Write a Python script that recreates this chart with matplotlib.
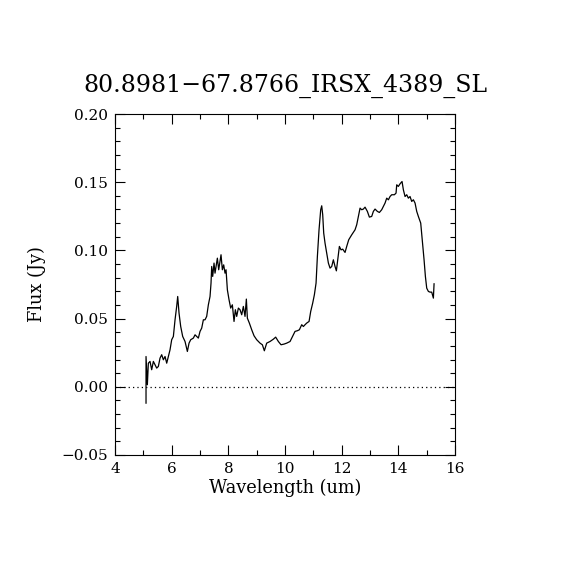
import numpy as np
import matplotlib
matplotlib.use('Agg')
import matplotlib.pyplot as plt
from matplotlib.ticker import MultipleLocator

# spectrum (um, Jy)
wave = [5.094, 5.094, 5.141, 5.176, 5.235, 5.294, 5.353, 5.412, 5.471, 5.529,
        5.588, 5.647, 5.706, 5.765, 5.824, 5.882, 5.941, 6.0, 6.059, 6.118,
        6.176, 6.212, 6.259, 6.318, 6.388, 6.471, 6.553, 6.612, 6.671, 6.765,
        6.824, 6.882, 6.941, 7.0, 7.059, 7.118, 7.176, 7.235, 7.294, 7.353,
        7.388, 7.412, 7.447, 7.494, 7.529, 7.565, 7.612, 7.659, 7.706, 7.741,
        7.788, 7.835, 7.882, 7.918, 7.965, 8.024, 8.082, 8.141, 8.2, 8.247,
        8.294, 8.353, 8.412, 8.471, 8.529, 8.588, 8.635, 8.671, 8.741, 8.824,
        8.906, 9.0, 9.118, 9.2, 9.27, 9.353, 9.47, 9.588, 9.67, 9.765,
        9.859, 9.965, 10.059,
        10.177, 10.295, 10.353, 10.436, 10.506, 10.589, 10.648, 10.706, 10.765, 10.848,
        10.906, 10.977, 11.036, 11.095, 11.142, 11.2, 11.259, 11.295, 11.33, 11.365,
        11.412, 11.471, 11.53, 11.589, 11.648, 11.706, 11.765, 11.812, 11.859, 11.918,
        11.977, 12.036, 12.118, 12.177, 12.248, 12.353, 12.471, 12.53, 12.589, 12.648,
        12.706, 12.765, 12.824, 12.906, 12.977, 13.059, 13.118, 13.177, 13.259, 13.33,
        13.412, 13.471, 13.53, 13.589, 13.648, 13.706, 13.765, 13.859, 13.918, 13.942,
        14.0, 14.059, 14.13, 14.177, 14.236, 14.295, 14.353, 14.412, 14.471, 14.53,
        14.589, 14.648, 14.706, 14.789, 14.848, 14.907, 14.954, 15.001, 15.06, 15.118,
        15.177, 15.236, 15.26]
flux = [-0.0120, 0.0222, 0.0015, 0.0173, 0.0186, 0.0125, 0.0186, 0.0161, 0.0137, 0.0149,
        0.0210, 0.0235, 0.0198, 0.0222, 0.0173, 0.0222, 0.0271, 0.0345, 0.0369, 0.0491,
        0.0589, 0.0662, 0.0540, 0.0442, 0.0369, 0.0332, 0.0259, 0.0320, 0.0345, 0.0357,
        0.0381, 0.0369, 0.0357, 0.0406, 0.0430, 0.0491, 0.0491, 0.0516, 0.0601, 0.0662,
        0.0760, 0.0882, 0.0809, 0.0907, 0.0833, 0.0882, 0.0943, 0.0858, 0.0919, 0.0968,
        0.0858, 0.0894, 0.0833, 0.0858, 0.0711, 0.0638, 0.0577, 0.0601, 0.0479, 0.0565,
        0.0516, 0.0577, 0.0565, 0.0528, 0.0589, 0.0516, 0.0643, 0.0503, 0.0467, 0.0418,
        0.0374, 0.0345, 0.0320, 0.0308, 0.0264, 0.0320, 0.0332, 0.0349, 0.0364, 0.0332,
        0.0308, 0.0313, 0.0320,
        0.0332, 0.0381, 0.0406, 0.0411, 0.0418, 0.0455, 0.0442, 0.0455, 0.0467, 0.0479,
        0.0552, 0.0614, 0.0675, 0.0760, 0.0956, 0.1151, 0.1298, 0.1327, 0.1261, 0.1127,
        0.1053, 0.0980, 0.0907, 0.0870, 0.0882, 0.0931, 0.0882, 0.0850, 0.0931, 0.1029,
        0.1004, 0.1009, 0.0985, 0.1029, 0.1078, 0.1114, 0.1151, 0.1188, 0.1249, 0.1310,
        0.1298, 0.1303, 0.1317, 0.1286, 0.1244, 0.1249, 0.1286, 0.1303, 0.1286, 0.1278,
        0.1298, 0.1322, 0.1347, 0.1383, 0.1371, 0.1395, 0.1408, 0.1408, 0.1420, 0.1481,
        0.1469, 0.1488, 0.1505, 0.1444, 0.1395, 0.1408, 0.1383, 0.1395, 0.1359, 0.1371,
        0.1347, 0.1286, 0.1249, 0.1200, 0.1066, 0.0931, 0.0809, 0.0723, 0.0699, 0.0694,
        0.0694, 0.0650, 0.0755]

title = '80.8981\u221267.8766_IRSX_4389_SL'

plt.rcParams['font.family'] = ['DejaVu Serif']
plt.rcParams['axes.unicode_minus'] = True

fig = plt.figure(figsize=(5.7, 5.7), dpi=100)
ax = fig.add_axes([0.2018, 0.2018, 0.5965, 0.5982])
ax.plot(wave, flux, color='black', lw=0.9)
ax.axhline(0, color='black', lw=0.9, ls=(0, (1, 2.5)))

ax.set_xlim(4, 16)
ax.set_ylim(-0.05, 0.20)
ax.xaxis.set_major_locator(MultipleLocator(2))
ax.xaxis.set_minor_locator(MultipleLocator(1))
ax.yaxis.set_major_locator(MultipleLocator(0.05))
ax.yaxis.set_minor_locator(MultipleLocator(0.01))
ax.yaxis.set_major_formatter(matplotlib.ticker.FuncFormatter(lambda v, p: ('%.2f' % v).replace('-', '\u2212')))
ax.tick_params(which='both', direction='in', top=True, right=True, labelsize=11, width=0.8)
ax.tick_params(which='major', length=7, pad=5)
ax.tick_params(which='minor', length=3.5)
for s in ax.spines.values():
    s.set_linewidth(0.8)

ax.set_xlabel('Wavelength (um)', fontsize=12.8, labelpad=2)
ax.set_ylabel('Flux (Jy)', fontsize=12.8, labelpad=11)
ax.set_title(title, fontsize=17, pad=16)

fig.savefig('out.png', dpi=100, facecolor='white')
